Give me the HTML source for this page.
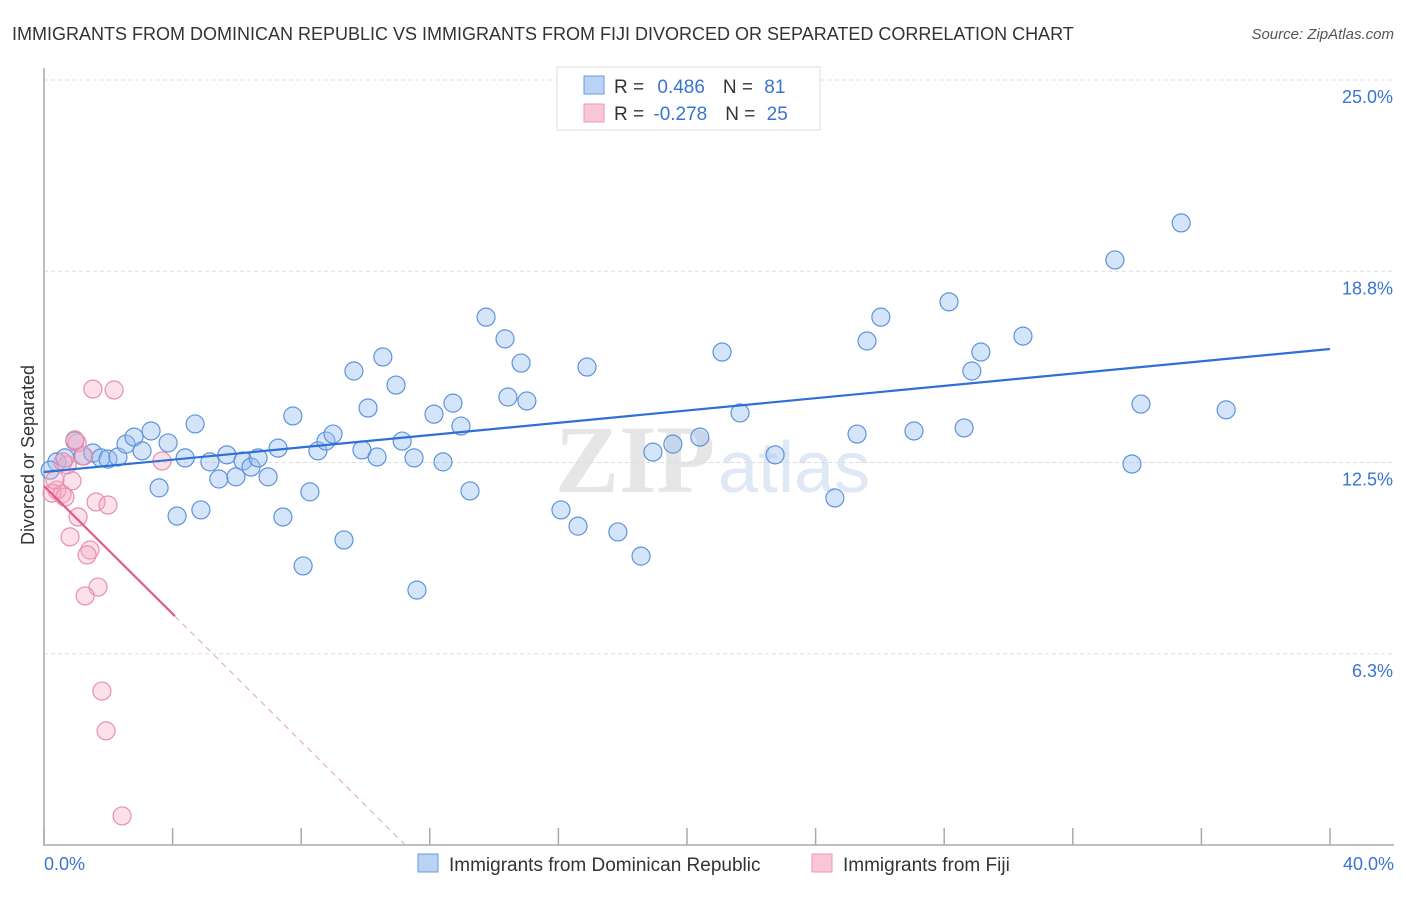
<!DOCTYPE html>
<html><head><meta charset="utf-8"><style>
body{margin:0;background:#fff;font-family:"Liberation Sans",sans-serif;}
</style></head><body>
<svg id="chart" width="1406" height="892" xmlns="http://www.w3.org/2000/svg" font-family="Liberation Sans, sans-serif">
<text x="12" y="40" font-size="18" fill="#333">IMMIGRANTS FROM DOMINICAN REPUBLIC VS IMMIGRANTS FROM FIJI DIVORCED OR SEPARATED CORRELATION CHART</text>
<text x="1394" y="39" font-size="15" fill="#555" font-style="italic" text-anchor="end">Source: ZipAtlas.com</text>
<text x="555" y="492" font-size="96" fill="#e6e6e6" font-family="Liberation Serif, serif" font-weight="bold">ZIP</text>
<text x="718" y="492" font-size="72" fill="#dfe8f5">atlas</text>
<g id="grid"></g>
<g id="axes"></g>
<g id="marks"></g>
<text transform="translate(34,455) rotate(-90)" font-size="18" fill="#333" text-anchor="middle">Divorced or Separated</text>
<g>
<rect x="557" y="67" width="263" height="63" fill="#fff" stroke="#ddd"/>
<rect x="584" y="76" width="20" height="18" fill="#b9d3f5" stroke="#6b9ae0"/>
<rect x="584" y="104" width="20" height="18" fill="#f9c6d5" stroke="#ee98b2"/>
<text x="614" y="93" font-size="19" fill="#333">R = <tspan fill="#3a74d3" dx="8">0.486</tspan><tspan fill="#333" dx="18">N = </tspan><tspan fill="#3a74d3" dx="6">81</tspan></text>
<text x="614" y="120" font-size="19" fill="#333">R = <tspan fill="#3a74d3" dx="4">-0.278</tspan><tspan fill="#333" dx="18">N = </tspan><tspan fill="#3a74d3" dx="6">25</tspan></text>
</g>
<g>
<rect x="418" y="854" width="20" height="18" fill="#b9d3f5" stroke="#6b9ae0"/>
<text x="449" y="871" font-size="19" fill="#333">Immigrants from Dominican Republic</text>
<rect x="812" y="854" width="20" height="18" fill="#f9c6d5" stroke="#ee98b2"/>
<text x="843" y="871" font-size="19" fill="#333">Immigrants from Fiji</text>
</g>
</svg>
<script>
const yTicks=[6.25,12.5,18.75,25];
const yTickLabels=["6.3%","12.5%","18.8%","25.0%"];
const xTicks=[0,4,8,12,16,20,24,28,32,36,40];
const blueX=[0.40,0.65,0.96,1.21,1.52,1.77,1.99,2.30,2.55,2.80,3.05,3.33,3.58,3.86,4.14,4.39,4.70,4.88,5.16,5.44,5.69,5.97,6.19,6.44,6.66,6.97,7.28,7.43,7.74,8.06,8.27,8.52,8.77,8.99,9.33,9.64,9.89,10.08,10.36,10.54,10.95,11.14,11.51,11.60,12.13,12.41,12.72,12.97,13.25,13.75,14.34,14.43,14.84,15.02,16.08,16.61,16.89,17.85,18.57,18.94,19.56,20.40,21.09,21.65,22.74,24.60,25.29,25.60,26.03,27.06,28.15,28.62,28.86,29.14,30.45,33.31,33.84,34.12,35.37,36.77,0.19];
const blueY=[12.52,12.65,13.20,12.71,12.81,12.65,12.61,12.68,13.10,13.33,12.88,13.53,11.67,13.14,10.75,12.65,13.76,10.95,12.52,11.96,12.75,12.03,12.55,12.35,12.65,12.03,12.97,10.72,14.02,9.12,11.54,12.88,13.20,13.43,9.97,15.49,12.91,14.28,12.68,15.95,15.03,13.20,12.65,8.33,14.08,12.52,14.44,13.69,11.57,17.25,16.54,14.64,15.75,14.51,10.95,10.42,15.62,10.23,9.44,12.84,13.10,13.33,16.11,14.12,12.75,11.34,13.43,16.47,17.25,13.53,17.75,13.63,15.49,16.11,16.63,19.12,12.45,14.41,20.33,14.22,12.25];
const pinkX=[0.40,0.25,0.56,0.72,0.87,1.03,0.59,1.06,1.24,1.52,1.62,1.99,2.18,0.81,1.43,1.34,1.68,1.28,1.80,1.93,2.43,3.67,0.34,0.65,0.96];
const pinkY=[11.60,11.50,11.47,12.42,11.90,13.14,12.52,10.72,12.71,14.90,11.21,11.11,14.87,10.07,9.64,9.48,8.43,8.14,5.03,3.73,0.95,12.55,11.93,11.37,13.24];
const blueLine=[12.19,16.21];
const pinkLine=[11.73,-1.044];
const NS="http://www.w3.org/2000/svg";
const X=v=>44+v*32.15, Y=v=>845-v*30.6;
function mk(t,a,p){const e=document.createElementNS(NS,t);for(const k in a)e.setAttribute(k,a[k]);(p||document.getElementById('marks')).appendChild(e);return e;}
const grid=document.getElementById('grid'),axes=document.getElementById('axes');
yTicks.forEach((t,i)=>{
 const l=mk('line',{x1:44,x2:1394,y1:Y(t),y2:Y(t),stroke:'#ddd','stroke-dasharray':'4,3'},grid);
 
 
 const tx=mk('text',{x:1393,y:Y(t)+23,'font-size':18,fill:'#3a74d3','text-anchor':'end'},axes);
 tx.textContent=yTickLabels[i];
 
 
});
const ax=mk('path',{d:'M44 68 V845 H1394',fill:'none',stroke:'#aaa','stroke-width':1.5},axes);


xTicks.forEach(t=>{const l=mk('line',{x1:X(t),x2:X(t),y1:828,y2:845,stroke:'#aaa','stroke-width':1.5},axes);
 
 });
const xl0=mk('text',{x:44,y:870,'font-size':18,fill:'#3a74d3'},axes);xl0.textContent='0.0%';


const xl1=mk('text',{x:1394,y:870,'font-size':18,fill:'#3a74d3','text-anchor':'end'},axes);xl1.textContent='40.0%';


blueX.forEach((x,i)=>{const c=mk('circle',{cx:X(x),cy:Y(blueY[i]),r:9,fill:'rgba(150,190,240,0.4)',stroke:'#5e93dc','stroke-width':1.2});
 
 });
pinkX.forEach((x,i)=>{const c=mk('circle',{cx:X(x),cy:Y(pinkY[i]),r:9,fill:'rgba(245,170,195,0.35)',stroke:'#e98fac','stroke-width':1.2});
 
 });
const bl=mk('line',{x1:X(0),y1:Y(blueLine[0]),x2:X(40),y2:Y(blueLine[1]),stroke:'#2f6fd6','stroke-width':2.2});


const pEnd=4.07, pZero=-pinkLine[0]/pinkLine[1];
const pl=mk('line',{x1:X(0),y1:Y(pinkLine[0]),x2:X(pEnd),y2:Y(pinkLine[0]+pinkLine[1]*pEnd),stroke:'#e55a88','stroke-width':2.2});


const pd=mk('line',{x1:X(pEnd),y1:Y(pinkLine[0]+pinkLine[1]*pEnd),x2:X(pZero),y2:Y(0),stroke:'#e8a0b8','stroke-width':1,'stroke-dasharray':'6,5'});


</script>
</body></html>
